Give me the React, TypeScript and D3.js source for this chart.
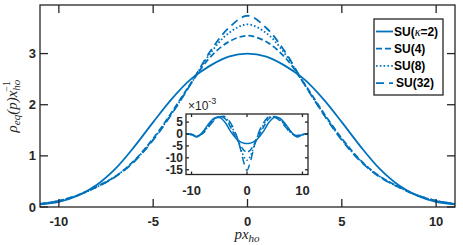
import * as d3 from "d3"

// main panel: momentum grid and densities
const pGrid = [-11, -10, -9, -8, -7, -6, -5, -4, -3, -2, -1, 0, 1, 2, 3, 4, 5, 6, 7, 8, 9, 10, 11]
const su2 = [0.05, 0.1, 0.22, 0.43, 0.75, 1.18, 1.66, 2.12, 2.5, 2.76, 2.94, 3.0, 2.94, 2.76, 2.5, 2.12, 1.66, 1.18, 0.75, 0.43, 0.22, 0.1, 0.05]
const su4 = [0.06, 0.12, 0.23, 0.4, 0.6, 0.91, 1.34, 1.86, 2.42, 2.92, 3.23, 3.35, 3.23, 2.92, 2.42, 1.86, 1.34, 0.91, 0.6, 0.4, 0.23, 0.12, 0.06]
const su8 = [0.06, 0.12, 0.23, 0.39, 0.6, 0.9, 1.32, 1.84, 2.41, 2.99, 3.4, 3.57, 3.4, 2.99, 2.41, 1.84, 1.32, 0.9, 0.6, 0.39, 0.23, 0.12, 0.06]
const su32 = [0.06, 0.12, 0.23, 0.39, 0.59, 0.89, 1.31, 1.83, 2.41, 3.03, 3.5, 3.74, 3.5, 3.03, 2.41, 1.83, 1.31, 0.89, 0.59, 0.39, 0.23, 0.12, 0.06]

// inset: deviations (x 1e-3)
const pInset = [-11, -10, -9, -8, -7, -6, -5, -4, -3, -2, -1.5, -1, -0.5, 0, 0.5, 1, 1.5, 2, 3, 4, 5, 6, 7, 8, 9, 10, 11]
const d2 = [0, -0.3, -1.2, 0.8, 4.0, 6.5, 7.0, 5.0, 1.2, -1.8, -2.8, -3.5, -3.9, -4.0, -3.9, -3.5, -2.8, -1.8, 1.2, 5.0, 7.0, 6.5, 4.0, 0.8, -1.2, -0.3, 0]
const d4 = [0, -0.2, -1.0, 0.6, 3.6, 6.2, 7.4, 6.5, 3.0, -1.5, -3.5, -5.5, -7.0, -7.6, -7.0, -5.5, -3.5, -1.5, 3.0, 6.5, 7.4, 6.2, 3.6, 0.6, -1.0, -0.2, 0]
const d8 = [0, -0.2, -0.8, 0.4, 3.2, 5.8, 7.2, 7.0, 4.0, -0.5, -3.5, -7.0, -9.8, -11.0, -9.8, -7.0, -3.5, -0.5, 4.0, 7.0, 7.2, 5.8, 3.2, 0.4, -0.8, -0.2, 0]
const d32 = [0, -0.1, -0.6, 0.2, 2.8, 5.5, 7.0, 7.4, 4.8, 0, -3.5, -8.0, -12.5, -15.3, -12.5, -8.0, -3.5, 0, 4.8, 7.4, 7.0, 5.5, 2.8, 0.2, -0.6, -0.1, 0]

const xTicks = [-10, -5, 0, 5, 10]
const yTicks = [0, 1, 2, 3]
const insetXTicks = [-10, 0, 10]
const insetYTicks = [5, 0, -5, -10, -15]
const labels = ["SU(κ=2)", "SU(4)", "SU(8)", "SU(32)"]

const blue = "#0072BD"
const ink = "#262626"
const dashes = [null, "6,3", "1.6,2.2", "8,5"]
const font = "'Liberation Sans', Arial, sans-serif"

export default function App() {
  const W = 463
  const H = 245
  const L = 40, R = 455, T = 5, B = 207
  const x = d3.scaleLinear().domain([-11, 11]).range([L, R])
  const y = d3.scaleLinear().domain([0, 3.95]).range([B, T])

  const iL = 186, iR = 308, iT = 114, iB = 174.5
  const ix = d3.scaleLinear().domain([-11, 11]).range([iL, iR])
  const iy = d3.scaleLinear().domain([-17, 8.4]).range([iB, iT])

  const mainLine = d3
    .line<number>()
    .x((_, i) => x(pGrid[i]))
    .y((d) => y(d))
    .curve(d3.curveCatmullRom.alpha(0.5))
  const insetLine = d3
    .line<number>()
    .x((_, i) => ix(pInset[i]))
    .y((d) => iy(d))
    .curve(d3.curveCatmullRom.alpha(0.5))

  const series = [su2, su4, su8, su32]
  const insetSeries = [d2, d4, d8, d32]
  const tk = 8
  const itk = 3

  return (
    <svg width={W} height={H} style={{ position: "absolute", left: 0, top: 0, background: "#fff" }} fontFamily={font}>
      <defs>
        <clipPath id="mainClip">
          <rect x={L} y={T} width={R - L} height={B - T} />
        </clipPath>
        <clipPath id="insetClip">
          <rect x={iL} y={iT} width={iR - iL} height={iB - iT} />
        </clipPath>
      </defs>

      {/* main curves */}
      <g clipPath="url(#mainClip)">
        {series.map((s, i) => (
          <path key={i} d={mainLine(s) || ""} fill="none" stroke={blue} strokeWidth={1.8} strokeDasharray={dashes[i] || undefined} />
        ))}
      </g>

      {/* main axes box and ticks */}
      <rect x={L} y={T} width={R - L} height={B - T} fill="none" stroke={ink} strokeWidth={1.3} />
      {xTicks.map((t) => (
        <g key={t}>
          <line x1={x(t)} x2={x(t)} y1={B} y2={B - tk} stroke={ink} strokeWidth={1.3} />
          <line x1={x(t)} x2={x(t)} y1={T} y2={T + tk} stroke={ink} strokeWidth={1.3} />
          <text x={x(t)} y={226} textAnchor="middle" fontSize={13} fontWeight="bold" fill={ink}>
            {t}
          </text>
        </g>
      ))}
      {yTicks.map((t) => (
        <g key={t}>
          <line x1={L} x2={L + tk} y1={y(t)} y2={y(t)} stroke={ink} strokeWidth={1.3} />
          <line x1={R} x2={R - tk} y1={y(t)} y2={y(t)} stroke={ink} strokeWidth={1.3} />
          <text x={36} y={y(t) + 4.6} textAnchor="end" fontSize={13} fontWeight="bold" fill={ink}>
            {t}
          </text>
        </g>
      ))}

      {/* axis labels */}
      <text x={247} y={239} textAnchor="middle" fontFamily="'Liberation Serif', serif" fontStyle="italic" fontSize={15} fill={ink}>
        px<tspan fontSize={11} dy={3}>ho</tspan>
      </text>
      <text transform="translate(17,106) rotate(-90)" textAnchor="middle" fontFamily="'Liberation Serif', serif" fontStyle="italic" fontSize={15} fill={ink}>
        ρ<tspan fontSize={11} dy={3}>eq</tspan>
        <tspan dy={-3}>(p)x</tspan>
        <tspan fontSize={11} dy={3}>ho</tspan>
        <tspan fontSize={10} fontStyle="normal" dy={-10} dx={-12}>−1</tspan>
      </text>

      {/* legend */}
      <rect x={374} y={19} width={69} height={76} fill="#fff" stroke={ink} strokeWidth={1.3} />
      {labels.map((lab, i) => {
        const ly = 31.5 + i * 17.2
        return (
          <g key={lab}>
            <line x1={376} x2={393} y1={ly} y2={ly} stroke={blue} strokeWidth={1.8} strokeDasharray={dashes[i] || undefined} />
            <text x={i === 3 ? 396 : 394} y={ly + 4.3} fontSize={12} fontWeight="bold" fill="#000">
              {i === 0 ? (
                <>
                  SU(<tspan fontStyle="italic" fontFamily="'Liberation Serif', serif" fontWeight="normal">κ</tspan>=2)
                </>
              ) : (
                lab
              )}
            </text>
          </g>
        )
      })}

      {/* inset */}
      <rect x={iL} y={iT} width={iR - iL} height={iB - iT} fill="#fff" />
      <g clipPath="url(#insetClip)">
        {insetSeries.map((s, i) => (
          <path key={i} d={insetLine(s) || ""} fill="none" stroke={blue} strokeWidth={1.5} strokeDasharray={dashes[i] || undefined} />
        ))}
      </g>
      <rect x={iL} y={iT} width={iR - iL} height={iB - iT} fill="none" stroke={ink} strokeWidth={1.3} />
      {insetXTicks.map((t) => (
        <g key={t}>
          <line x1={ix(t)} x2={ix(t)} y1={iB} y2={iB - itk} stroke={ink} strokeWidth={1.3} />
          <line x1={ix(t)} x2={ix(t)} y1={iT} y2={iT + itk} stroke={ink} strokeWidth={1.3} />
          <text x={ix(t)} y={194.5} textAnchor="middle" fontSize={13} fontWeight="bold" fill={ink}>
            {t}
          </text>
        </g>
      ))}
      {insetYTicks.map((t) => (
        <g key={t}>
          <line x1={iL} x2={iL + itk} y1={iy(t)} y2={iy(t)} stroke={ink} strokeWidth={1.3} />
          <line x1={iR} x2={iR - itk} y1={iy(t)} y2={iy(t)} stroke={ink} strokeWidth={1.3} />
          <text x={183} y={iy(t) + 4} textAnchor="end" fontSize={12} fontWeight="bold" fill={ink}>
            {t}
          </text>
        </g>
      ))}
      <text x={188} y={110} fontSize={12} fill={ink}>
        ×10<tspan fontSize={9} dy={-6}>-3</tspan>
      </text>
    </svg>
  )
}
